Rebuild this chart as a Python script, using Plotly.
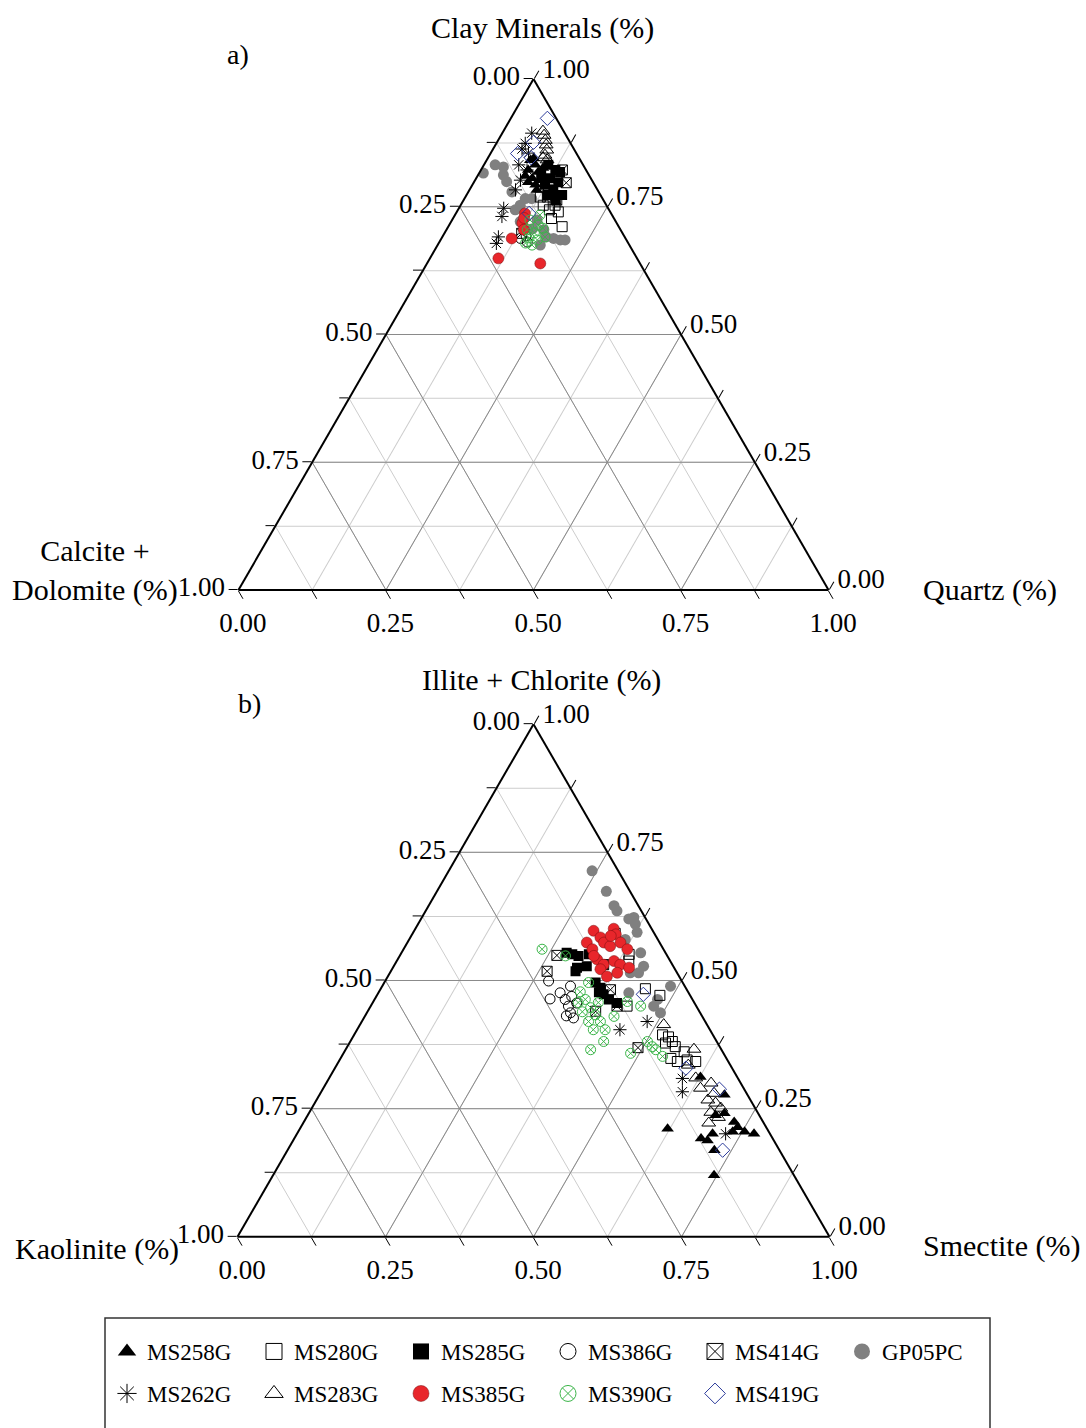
import plotly.graph_objects as go

FONT = "Liberation Serif"
W, H = 1086, 1428

# ---------------- data (top, left, right) fractions ----------------
# Panel a: (Clay Minerals, Calcite + Dolomite, Quartz)
top_MS258G = [(0.841,0.085,0.074),(0.832,0.081,0.087),(0.822,0.098,0.080),(0.818,0.083,0.099),(0.806,0.099,0.095),(0.810,0.109,0.081),(0.802,0.088,0.110),(0.793,0.100,0.107),(0.798,0.110,0.092),(0.826,0.071,0.103),(0.845,0.077,0.078),(0.783,0.103,0.114)]
top_MS280G = [(0.769,0.104,0.127),(0.769,0.092,0.139),(0.744,0.101,0.155),(0.727,0.106,0.167),(0.740,0.088,0.172),(0.711,0.096,0.193),(0.783,0.083,0.134),(0.753,0.107,0.140),(0.753,0.087,0.160)]
top_MS285G = [(0.832,0.059,0.109),(0.822,0.052,0.126),(0.818,0.046,0.136),(0.806,0.069,0.125),(0.798,0.059,0.143),(0.793,0.084,0.123),(0.783,0.075,0.142),(0.773,0.065,0.162),(0.773,0.090,0.137),(0.763,0.081,0.156),(0.812,0.081,0.107)]
top_MS386G = [(0.688,0.178,0.134),(0.693,0.166,0.141),(0.681,0.170,0.149)]
top_MS414G = [(0.797,0.046,0.157),(0.763,0.079,0.158),(0.698,0.171,0.131),(0.822,0.040,0.138)]
top_GP05PC = [(0.816,0.177,0.007),(0.832,0.149,0.019),(0.828,0.137,0.035),(0.812,0.145,0.043),(0.799,0.146,0.055),(0.779,0.147,0.074),(0.766,0.131,0.103),(0.766,0.120,0.114),(0.724,0.132,0.144),(0.705,0.130,0.165),(0.688,0.122,0.190),(0.685,0.112,0.203),(0.685,0.104,0.211),(0.675,0.151,0.174),(0.721,0.162,0.117),(0.707,0.148,0.145),(0.691,0.133,0.176),(0.753,0.146,0.101),(0.744,0.159,0.097)]
top_MS262G = [(0.894,0.056,0.050),(0.874,0.077,0.049),(0.863,0.088,0.049),(0.855,0.081,0.064),(0.832,0.109,0.059),(0.822,0.100,0.078),(0.802,0.121,0.077),(0.783,0.139,0.078),(0.747,0.177,0.076),(0.731,0.188,0.081),(0.691,0.214,0.095),(0.679,0.224,0.098)]
top_MS283G = [(0.898,0.035,0.067),(0.890,0.037,0.073),(0.881,0.040,0.080),(0.871,0.043,0.086),(0.861,0.047,0.092),(0.851,0.055,0.094),(0.841,0.056,0.102),(0.845,0.061,0.093)]
top_MS385G = [(0.737,0.146,0.117),(0.718,0.160,0.122),(0.705,0.164,0.131),(0.688,0.193,0.119),(0.649,0.235,0.116),(0.639,0.169,0.192),(0.728,0.152,0.120)]
top_MS390G = [(0.724,0.144,0.132),(0.714,0.135,0.151),(0.705,0.158,0.137),(0.699,0.149,0.152),(0.708,0.130,0.162),(0.689,0.163,0.148),(0.685,0.151,0.164),(0.691,0.135,0.174),(0.675,0.165,0.160),(0.734,0.122,0.144),(0.679,0.174,0.147)]
top_MS419G = [(0.923,0.015,0.062),(0.876,0.062,0.062),(0.855,0.100,0.046),(0.846,0.081,0.073),(0.737,0.139,0.124)]

# Panel b: (Illite + Chlorite, Kaolinite, Smectite)
bot_MS258G = [(0.211,0.168,0.621),(0.192,0.121,0.687),(0.188,0.112,0.700),(0.169,0.110,0.721),(0.241,0.057,0.702),(0.224,0.049,0.727),(0.214,0.048,0.738),(0.205,0.041,0.754),(0.201,0.027,0.772),(0.205,0.061,0.734),(0.201,0.097,0.702),(0.237,0.074,0.689),(0.312,0.062,0.626),(0.120,0.135,0.745),(0.277,0.039,0.684)]
bot_MS280G = [(0.592,0.066,0.342),(0.551,0.063,0.386),(0.538,0.070,0.392),(0.484,0.069,0.447),(0.471,0.051,0.478),(0.450,0.117,0.433),(0.394,0.085,0.521),(0.390,0.077,0.533),(0.381,0.075,0.544),(0.378,0.088,0.534),(0.371,0.075,0.554),(0.361,0.065,0.574),(0.348,0.094,0.558),(0.345,0.068,0.587),(0.342,0.055,0.603),(0.342,0.086,0.572)]
bot_MS285G = [(0.554,0.167,0.279),(0.551,0.159,0.290),(0.548,0.150,0.302),(0.551,0.131,0.318),(0.525,0.164,0.311),(0.528,0.146,0.326),(0.518,0.170,0.312),(0.496,0.147,0.357),(0.486,0.144,0.370),(0.473,0.145,0.382),(0.463,0.141,0.396),(0.456,0.131,0.413),(0.477,0.151,0.372)]
bot_MS386G = [(0.499,0.225,0.276),(0.464,0.240,0.296),(0.476,0.217,0.307),(0.489,0.193,0.318),(0.469,0.201,0.330),(0.450,0.216,0.334),(0.437,0.219,0.344),(0.427,0.219,0.354),(0.456,0.199,0.345),(0.463,0.215,0.322),(0.431,0.229,0.340)]
bot_MS414G = [(0.549,0.186,0.265),(0.518,0.218,0.264),(0.531,0.116,0.353),(0.440,0.175,0.385),(0.450,0.134,0.416),(0.482,0.129,0.389),(0.369,0.139,0.492)]
bot_GP05PC = [(0.714,0.044,0.242),(0.674,0.040,0.286),(0.646,0.041,0.313),(0.636,0.041,0.323),(0.620,0.029,0.351),(0.623,0.019,0.358),(0.610,0.023,0.367),(0.594,0.028,0.378),(0.554,0.042,0.404),(0.528,0.050,0.422),(0.515,0.065,0.420),(0.515,0.079,0.406),(0.476,0.101,0.423),(0.463,0.059,0.478),(0.489,0.024,0.487),(0.450,0.072,0.478),(0.437,0.067,0.496),(0.580,0.055,0.365)]
bot_MS262G = [(0.420,0.098,0.482),(0.404,0.152,0.444),(0.309,0.094,0.597),(0.283,0.107,0.610),(0.201,0.075,0.724)]
bot_MS283G = [(0.414,0.073,0.513),(0.366,0.046,0.588),(0.310,0.071,0.619),(0.300,0.050,0.650),(0.290,0.073,0.637),(0.280,0.055,0.665),(0.267,0.072,0.661),(0.261,0.062,0.677),(0.243,0.079,0.678),(0.251,0.058,0.691),(0.222,0.093,0.685),(0.233,0.071,0.696),(0.335,0.071,0.594)]
bot_MS385G = [(0.597,0.100,0.303),(0.584,0.095,0.321),(0.601,0.064,0.335),(0.590,0.066,0.344),(0.574,0.123,0.303),(0.561,0.120,0.319),(0.574,0.094,0.332),(0.567,0.087,0.346),(0.574,0.066,0.360),(0.561,0.061,0.378),(0.541,0.122,0.337),(0.531,0.116,0.353),(0.538,0.095,0.367),(0.531,0.088,0.381),(0.525,0.076,0.399),(0.522,0.126,0.352),(0.508,0.122,0.370),(0.515,0.101,0.384),(0.548,0.124,0.328),(0.587,0.076,0.337)]
bot_MS390G = [(0.561,0.205,0.234),(0.548,0.172,0.280),(0.496,0.159,0.345),(0.478,0.182,0.340),(0.463,0.181,0.356),(0.447,0.180,0.373),(0.433,0.179,0.388),(0.420,0.177,0.403),(0.404,0.177,0.419),(0.439,0.198,0.363),(0.420,0.197,0.383),(0.457,0.196,0.347),(0.457,0.162,0.381),(0.404,0.197,0.399),(0.459,0.112,0.429),(0.450,0.094,0.456),(0.381,0.191,0.428),(0.358,0.157,0.485),(0.381,0.117,0.502),(0.371,0.114,0.515),(0.365,0.111,0.524),(0.352,0.106,0.542),(0.430,0.149,0.421),(0.365,0.221,0.414)]
bot_MS419G = [(0.473,0.078,0.449),(0.329,0.078,0.593),(0.288,0.042,0.670),(0.169,0.096,0.735)]

TOP = {"MS258G": top_MS258G, "MS280G": top_MS280G, "MS285G": top_MS285G, "MS386G": top_MS386G,
       "MS414G": top_MS414G, "GP05PC": top_GP05PC, "MS262G": top_MS262G, "MS283G": top_MS283G,
       "MS385G": top_MS385G, "MS390G": top_MS390G, "MS419G": top_MS419G}
BOT = {"MS258G": bot_MS258G, "MS280G": bot_MS280G, "MS285G": bot_MS285G, "MS386G": bot_MS386G,
       "MS414G": bot_MS414G, "GP05PC": bot_GP05PC, "MS262G": bot_MS262G, "MS283G": bot_MS283G,
       "MS385G": bot_MS385G, "MS390G": bot_MS390G, "MS419G": bot_MS419G}

LEGEND_ROW1 = ["MS258G", "MS280G", "MS285G", "MS386G", "MS414G", "GP05PC"]
LEGEND_ROW2 = ["MS262G", "MS283G", "MS385G", "MS390G", "MS419G"]

STYLE = {
    "MS258G": dict(symbol="triangle-up", color="black", size=11, lw=0, lc="black"),
    "MS280G": dict(symbol="square-open", color="black", size=10, lw=1, lc="black"),
    "MS285G": dict(symbol="square", color="black", size=10, lw=0, lc="black"),
    "MS386G": dict(symbol="circle-open", color="black", size=10, lw=1, lc="black"),
    "MS414G": dict(symbol="square-x-open", color="black", size=10, lw=1, lc="black"),
    "GP05PC": dict(symbol="circle", color="#808080", size=11, lw=0, lc="#808080"),
    "MS262G": dict(symbol="asterisk-open", color="black", size=11, lw=1, lc="black"),
    "MS283G": dict(symbol="triangle-up-open", color="black", size=12, lw=1, lc="black"),
    "MS385G": dict(symbol="circle", color="#e8262b", size=11, lw=0.5, lc="#7a1010"),
    "MS390G": dict(symbol="circle-x-open", color="#3cb54a", size=10, lw=1, lc="#3cb54a"),
    "MS419G": dict(symbol="diamond-open", color="#2b3a9a", size=11, lw=1, lc="#2b3a9a"),
}
DRAW_ORDER = ["GP05PC", "MS262G", "MS258G", "MS283G", "MS280G", "MS285G", "MS414G",
              "MS386G", "MS385G", "MS390G", "MS419G"]

QUARTER = [0.25, 0.5, 0.75]
TICK_VALS = [0, 0.125, 0.25, 0.375, 0.5, 0.625, 0.75, 0.875, 1.0]
TICK_TEXT = ["1.00", "", "0.75", "", "0.50", "", "0.25", "", "0.00"]

fig = go.Figure()

# darker major grid lines
for sub in ["ternary", "ternary2"]:
    for v in QUARTER:
        for a, b, c in [([v, v], [1 - v, 0], [0, 1 - v]),
                        ([1 - v, 0], [v, v], [0, 1 - v]),
                        ([1 - v, 0], [0, 1 - v], [v, v])]:
            fig.add_trace(go.Scatterternary(a=a, b=b, c=c, mode="lines", subplot=sub,
                                            line=dict(color="#8a8a8a", width=1),
                                            showlegend=False, hoverinfo="skip"))

# legend entries: two rows, each its own horizontal legend
for leg, row in [("legend", LEGEND_ROW1), ("legend2", LEGEND_ROW2)]:
    for name in row:
        st = STYLE[name]
        fig.add_trace(go.Scatterternary(
            a=[None], b=[None], c=[None], mode="markers", name=name, subplot="ternary",
            showlegend=True, legend=leg,
            marker=dict(symbol=st["symbol"], color=st["color"], size=16,
                        line=dict(width=st["lw"], color=st["lc"]))))

for sub, data in [("ternary", TOP), ("ternary2", BOT)]:
    for name in DRAW_ORDER:
        st = STYLE[name]
        pts = data[name]
        fig.add_trace(go.Scatterternary(
            a=[p[0] for p in pts], b=[p[1] for p in pts], c=[p[2] for p in pts],
            mode="markers", name=name, subplot=sub, showlegend=False,
            marker=dict(symbol=st["symbol"], color=st["color"], size=st["size"],
                        line=dict(width=st["lw"], color=st["lc"]))))


def axis():
    return dict(tickmode="array", tickvals=TICK_VALS, ticktext=TICK_TEXT,
                ticks="outside", ticklen=9, tickwidth=1.2, tickcolor="black",
                linecolor="black", linewidth=2, showgrid=True,
                gridcolor="#cdcdcd", gridwidth=1, layer="above traces",
                tickfont=dict(family=FONT, size=27, color="black"), title=dict(text=""))


def tern(x0, x1, y0, y1):
    return dict(domain=dict(x=[x0 / W, x1 / W], y=[1 - y1 / H, 1 - y0 / H]), sum=1,
                bgcolor="white", aaxis=axis(), baxis=axis(), caxis=axis())


def ann(text, px, py, xanchor="center", size=30):
    return dict(text=text, x=px / W, y=1 - py / H, xref="paper", yref="paper",
                xanchor=xanchor, yanchor="middle", showarrow=False,
                font=dict(family=FONT, size=size, color="black"), align="center")


def legend_row(py):
    return dict(orientation="h", traceorder="normal",
                x=107 / W, y=1 - py / H, xanchor="left", yanchor="top",
                entrywidth=102, entrywidthmode="pixels",
                borderwidth=0, bgcolor="rgba(0,0,0,0)",
                font=dict(family=FONT, size=23, color="black"),
                itemsizing="trace")


fig.update_layout(
    width=W, height=H, margin=dict(l=0, r=0, t=0, b=0, autoexpand=False),
    paper_bgcolor="white", plot_bgcolor="white",
    font=dict(family=FONT, color="black"),
    ternary=tern(238, 829, 79, 590),
    ternary2=tern(237.5, 829.5, 724, 1237),
    showlegend=True,
    legend=legend_row(1330),
    legend2=legend_row(1372),
    shapes=[dict(type="rect", xref="paper", yref="paper",
                 x0=105 / W, x1=990 / W, y0=-0.05, y1=1 - 1318 / H,
                 line=dict(color="#333333", width=1.5), fillcolor="rgba(0,0,0,0)")],
    annotations=[
        ann("Clay Minerals (%)", 542, 28),
        ann("a)", 238, 55, size=28),
        ann("Calcite +<br>Dolomite (%)", 95, 570),
        ann("Quartz (%)", 921, 590, xanchor="left"),
        ann("Illite + Chlorite (%)", 541, 680),
        ann("b)", 249, 703, size=28),
        ann("Kaolinite (%)", 97, 1249),
        ann("Smectite (%)", 921, 1246, xanchor="left"),
    ],
)

fig.write_html("out.html")
